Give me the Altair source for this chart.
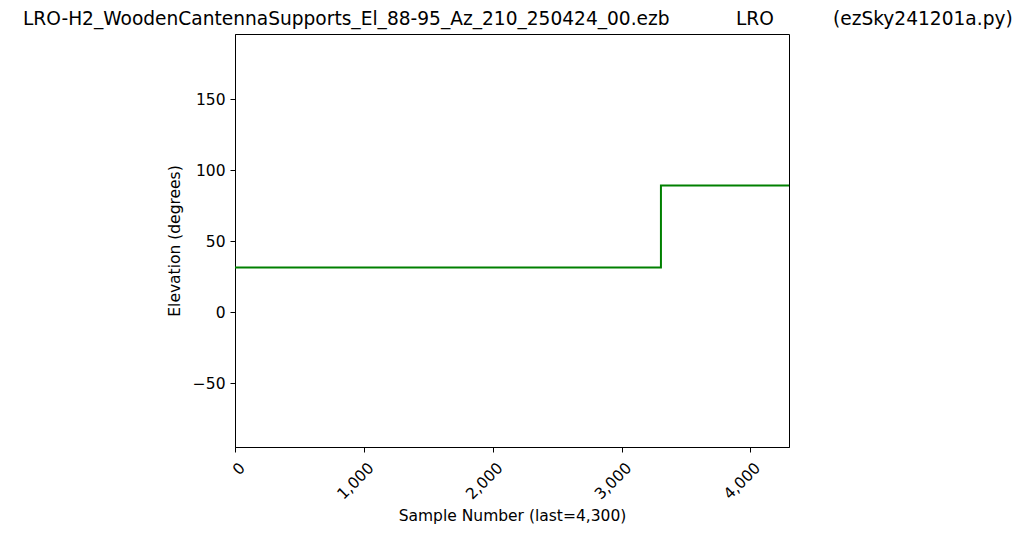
import altair as alt
import pandas as pd

# Data
samples = [0, 3306, 4300]
elevation = [31.5, 89.2, 89.2]

title_parts = [
    "LRO-H2_WoodenCantennaSupports_El_88-95_Az_210_250424_00.ezb",
    "LRO",
    "(ezSky241201a.py)",
]
title_x = [-212, 501, 598]

x_ticks = [0, 1000, 2000, 3000, 4000]
y_ticks = [-50, 0, 50, 100, 150]

df = pd.DataFrame({"sample": samples, "elev": elevation})
tdf = pd.DataFrame({"t": title_parts, "px": title_x})

FONT = "DejaVu Sans"

line = alt.Chart(df).mark_line(
    color="#008000", strokeWidth=2, interpolate="step-after", clip=True
).encode(
    x=alt.X(
        "sample:Q",
        scale=alt.Scale(domain=[0, 4300], nice=False, zero=False),
        axis=alt.Axis(
            values=x_ticks,
            format=",d",
            title="Sample Number (last=4,300)",
            labelAngle=315,
            labelAlign="right",
            labelBaseline="top",
            labelPadding=8,
            labelOffset=2,
            titleBaseline="middle",
            titleY=68,
            grid=False,
        ),
    ),
    y=alt.Y(
        "elev:Q",
        scale=alt.Scale(domain=[-95, 196], nice=False, zero=False),
        axis=alt.Axis(
            values=y_ticks,
            title="Elevation (degrees)",
            labelPadding=5,
            titlePadding=10,
            grid=False,
        ),
    ),
)

titles = alt.Chart(tdf).mark_text(
    font=FONT, fontSize=18.6, align="left", baseline="alphabetic", color="black"
).encode(
    text="t:N",
    x=alt.X("px:Q", scale=None),
    y=alt.value(-9),
)

chart = alt.layer(line, titles).properties(
    width=554,
    height=413,
    autosize=alt.AutoSizeParams(type="none"),
    padding={"left": 227, "top": 26, "right": 227, "bottom": 79},
).configure_view(
    stroke="black", strokeWidth=1
).configure_axis(
    labelFont=FONT,
    titleFont=FONT,
    labelFontSize=15.5,
    titleFontSize=15.5,
    titleFontWeight="normal",
    labelColor="black",
    titleColor="black",
    tickColor="black",
    domainColor="black",
    tickSize=5,
    domainWidth=1,
    tickWidth=1,
)

chart.save("out.html", embed_options={"renderer": "svg", "actions": False})
